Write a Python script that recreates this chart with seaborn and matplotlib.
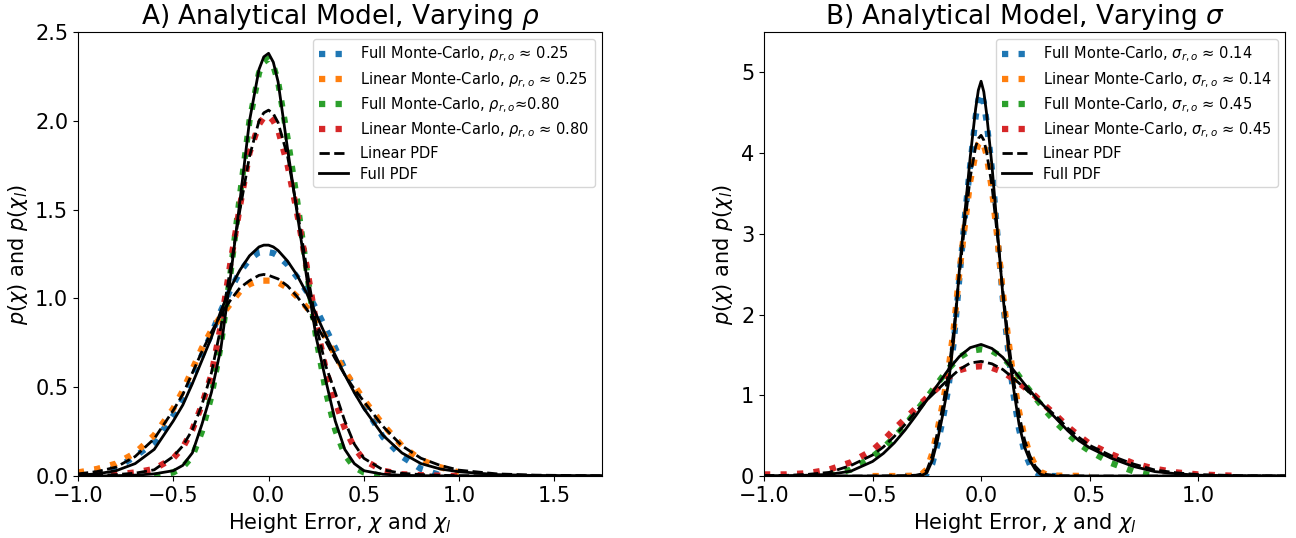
import matplotlib
matplotlib.use("Agg")
import matplotlib.pyplot as plt
import seaborn as sns

# ---------------- Panel A: varying rho ----------------
xa = [-1.0, -0.9, -0.8, -0.7, -0.6, -0.5, -0.45, -0.4, -0.35, -0.3, -0.25, -0.2, -0.15, -0.1, -0.05, -0.025,
      0.0, 0.025, 0.05, 0.1, 0.15, 0.2, 0.25, 0.3, 0.35, 0.4, 0.45, 0.5, 0.6, 0.7, 0.8, 0.9, 1.0, 1.2, 1.4, 1.75]

# analytical pdfs, rho ~ 0.25
a_full_pdf_lo = [0.005, 0.012, 0.03, 0.07, 0.15, 0.31, 0.40, 0.52, 0.65, 0.78, 0.93, 1.06, 1.16, 1.24, 1.29, 1.30,
                 1.30, 1.29, 1.27, 1.21, 1.13, 1.03, 0.91, 0.79, 0.68, 0.57, 0.47, 0.38, 0.23, 0.13, 0.07, 0.04,
                 0.024, 0.008, 0.003, 0.001]
a_lin_pdf_lo = [0.012, 0.025, 0.05, 0.11, 0.21, 0.37, 0.46, 0.58, 0.70, 0.81, 0.91, 0.99, 1.06, 1.10, 1.13, 1.135,
                1.13, 1.12, 1.11, 1.07, 1.01, 0.94, 0.85, 0.76, 0.66, 0.57, 0.49, 0.42, 0.28, 0.17, 0.10, 0.06,
                0.033, 0.012, 0.005, 0.001]
# analytical pdfs, rho ~ 0.80
a_full_pdf_hi = [0.0, 0.0, 0.002, 0.005, 0.012, 0.03, 0.06, 0.13, 0.29, 0.47, 0.72, 1.12, 1.55, 2.0, 2.29, 2.36,
                 2.38, 2.33, 2.22, 1.84, 1.48, 1.12, 0.78, 0.54, 0.31, 0.15, 0.07, 0.03, 0.01, 0.004, 0.002, 0.001,
                 0.0, 0.0, 0.0, 0.0]
a_lin_pdf_hi = [0.002, 0.004, 0.008, 0.016, 0.035, 0.11, 0.17, 0.26, 0.40, 0.58, 0.84, 1.17, 1.50, 1.80, 2.00, 2.045,
                2.06, 2.04, 1.99, 1.80, 1.50, 1.17, 0.85, 0.62, 0.47, 0.31, 0.18, 0.10, 0.035, 0.015, 0.008, 0.004,
                0.002, 0.001, 0.0, 0.0]

# monte-carlo histograms (x ranges are slices of xa)
a_mc_full_lo = [0.01, 0.02, 0.045, 0.11, 0.19, 0.34, 0.43, 0.55, 0.68, 0.80, 0.93, 1.05, 1.15, 1.22, 1.26, 1.265,
                1.26, 1.255, 1.24, 1.19, 1.12, 1.04, 0.94, 0.83, 0.72, 0.60, 0.49, 0.40, 0.22, 0.11, 0.04, 0.005]
a_mc_lin_lo = [0.02, 0.04, 0.07, 0.13, 0.23, 0.38, 0.48, 0.60, 0.72, 0.82, 0.90, 0.97, 1.04, 1.08, 1.10, 1.10,
               1.10, 1.10, 1.09, 1.06, 1.01, 0.95, 0.87, 0.78, 0.68, 0.59, 0.51, 0.43, 0.29, 0.17, 0.09, 0.05, 0.02]
a_mc_full_hi = [0.0, 0.02, 0.05, 0.11, 0.25, 0.45, 0.74, 1.14, 1.58, 2.0, 2.27, 2.33,
                2.35, 2.31, 2.22, 1.90, 1.55, 1.16, 0.78, 0.48, 0.26, 0.12, 0.05, 0.02, 0.0]
a_mc_lin_hi = [0.0, 0.005, 0.01, 0.02, 0.04, 0.10, 0.16, 0.26, 0.40, 0.57, 0.85, 1.20, 1.52, 1.82, 1.98, 2.02,
               2.03, 2.0, 1.95, 1.75, 1.48, 1.18, 0.86, 0.60, 0.42, 0.27, 0.16, 0.09, 0.03, 0.01, 0.005, 0.002, 0.0]

# ---------------- Panel B: varying sigma ----------------
xb = [-1.0, -0.9, -0.8, -0.7, -0.6, -0.5, -0.45, -0.4, -0.35, -0.3, -0.25, -0.2, -0.15, -0.1, -0.05,
      0.0, 0.05, 0.1, 0.15, 0.2, 0.25, 0.3, 0.35, 0.4, 0.45, 0.5, 0.6, 0.7, 0.8, 0.9, 1.0, 1.2, 1.4]
xb_narrow = [-1.0, -0.5, -0.35, -0.3, -0.275, -0.25, -0.225, -0.2, -0.175, -0.15, -0.125, -0.1, -0.075,
             -0.05, -0.025, -0.0125, 0.0, 0.0125, 0.025, 0.05, 0.075, 0.1, 0.125, 0.15, 0.175, 0.2, 0.225,
             0.25, 0.275, 0.3, 0.35, 0.5, 1.0, 1.4]

# sigma ~ 0.14 (narrow)
b_full_pdf_lo = [0.0, 0.0, 0.0, 0.0, 0.005, 0.04, 0.19, 0.45, 0.78, 1.15, 1.72, 2.55, 3.25, 3.95, 4.55, 4.78,
                 4.89, 4.76, 4.50, 3.85, 3.05, 2.25, 1.60, 1.08, 0.64, 0.36, 0.19, 0.08, 0.02, 0.005, 0.0, 0.0,
                 0.0, 0.0]
b_lin_pdf_lo = [0.0, 0.0, 0.005, 0.01, 0.025, 0.07, 0.25, 0.55, 0.88, 1.28, 1.82, 2.50, 3.12, 3.70, 4.08, 4.18,
                4.22, 4.16, 4.02, 3.60, 2.98, 2.30, 1.70, 1.18, 0.76, 0.45, 0.25, 0.12, 0.05, 0.02, 0.005, 0.0,
                0.0, 0.0]
# sigma ~ 0.45 (wide)
b_full_pdf_hi = [0.002, 0.004, 0.01, 0.02, 0.06, 0.18, 0.28, 0.41, 0.57, 0.75, 0.94, 1.13, 1.32, 1.48, 1.59,
                 1.63, 1.58, 1.47, 1.31, 1.14, 0.98, 0.84, 0.70, 0.56, 0.44, 0.35, 0.22, 0.12, 0.055, 0.028,
                 0.01, 0.002, 0.0]
b_lin_pdf_hi = [0.005, 0.008, 0.02, 0.045, 0.13, 0.26, 0.36, 0.49, 0.64, 0.80, 0.94, 1.07, 1.20, 1.32, 1.40,
                1.42, 1.39, 1.32, 1.21, 1.09, 0.97, 0.85, 0.73, 0.59, 0.48, 0.38, 0.25, 0.15, 0.075, 0.04,
                0.018, 0.004, 0.001]

b_mc_full_lo = [0.0, 0.0, 0.0, 0.03, 0.15, 0.40, 0.72, 1.10, 1.68, 2.45, 3.2, 3.85, 4.45, 4.66,
                4.75, 4.63, 4.4, 3.8, 3.0, 2.2, 1.55, 1.0, 0.58, 0.30, 0.14, 0.05, 0.01, 0.0, 0.0]
b_mc_lin_lo = [0.0, 0.0, 0.005, 0.02, 0.08, 0.28, 0.58, 0.92, 1.32, 1.85, 2.52, 3.1, 3.65, 4.0, 4.11,
               4.15, 4.10, 3.98, 3.55, 2.95, 2.28, 1.70, 1.20, 0.80, 0.48, 0.27, 0.13, 0.05, 0.02, 0.005, 0.0]
b_mc_full_hi = [0.0, 0.08, 0.24, 0.35, 0.48, 0.63, 0.80, 0.97, 1.15, 1.33, 1.47, 1.55, 1.57, 1.55, 1.47,
                1.33, 1.14, 0.97, 0.80, 0.65, 0.52, 0.40, 0.31, 0.16, 0.06, 0.0]
b_mc_lin_hi = [0.02, 0.02, 0.035, 0.08, 0.17, 0.32, 0.44, 0.58, 0.71, 0.84, 0.97, 1.09, 1.22, 1.31, 1.35,
               1.36, 1.34, 1.29, 1.20, 1.10, 0.99, 0.86, 0.74, 0.61, 0.50, 0.40, 0.27, 0.16, 0.09, 0.045,
               0.02, 0.0]

labels_a = [r"Full Monte-Carlo, $\rho_{r,o}$ ≈ 0.25",
            r"Linear Monte-Carlo, $\rho_{r,o}$ ≈ 0.25",
            r"Full Monte-Carlo, $\rho_{r,o}$≈0.80",
            r"Linear Monte-Carlo, $\rho_{r,o}$ ≈ 0.80"]
labels_b = [r"Full Monte-Carlo, $\sigma_{r,o}$ ≈ 0.14",
            r"Linear Monte-Carlo, $\sigma_{r,o}$ ≈ 0.14",
            r"Full Monte-Carlo, $\sigma_{r,o}$ ≈ 0.45",
            r"Linear Monte-Carlo, $\sigma_{r,o}$ ≈ 0.45"]
mc_colors = ["#1f77b4", "#ff7f0e", "#2ca02c", "#d62728"]


def draw_panel(ax, mc_series, pdf_series, labels):
    # monte-carlo curves as thick dotted lines
    for (xs, ys), lab, col in zip(mc_series, labels, mc_colors):
        sns.lineplot(x=xs, y=ys, ax=ax, color=col, linestyle=":", linewidth=4.5, label=lab)
    # analytical pdfs in black, only the first pair gets legend entries
    for i, (xs, ys_lin, ys_full) in enumerate(pdf_series):
        sns.lineplot(x=xs, y=ys_lin, ax=ax, color="black", linestyle="--", linewidth=2,
                     label="Linear PDF" if i == 0 else None)
        sns.lineplot(x=xs, y=ys_full, ax=ax, color="black", linestyle="-", linewidth=2,
                     label="Full PDF" if i == 0 else None)
    ax.set_xlabel(r"Height Error, $\chi$ and $\chi_l$", fontsize=15)
    ax.set_ylabel(r"$p(\chi)$ and $p(\chi_l)$", fontsize=15)
    ax.tick_params(labelsize=15)
    ax.legend(loc="upper right", fontsize=10.5, labelspacing=0.4)


fig = plt.figure(figsize=(12.96, 5.38), dpi=100)
ax1 = fig.add_axes([0.0602, 0.1152, 0.4043, 0.8253])
ax2 = fig.add_axes([0.5895, 0.1152, 0.4020, 0.8253])

draw_panel(ax1,
           [(xa[:32], a_mc_full_lo), (xa[:33], a_mc_lin_lo), (xa[4:29], a_mc_full_hi), (xa[:33], a_mc_lin_hi)],
           [(xa, a_lin_pdf_lo, a_full_pdf_lo), (xa, a_lin_pdf_hi, a_full_pdf_hi)],
           labels_a)
ax1.set_xlim(-1.0, 1.75)
ax1.set_ylim(0, 2.5)
ax1.set_xticks([-1.0, -0.5, 0.0, 0.5, 1.0, 1.5])
ax1.set_title(r"A) Analytical Model, Varying $\rho$", fontsize=19)

draw_panel(ax2,
           [(xb_narrow[2:31], b_mc_full_lo), (xb_narrow[1:32], b_mc_lin_lo),
            (xb[3:29], b_mc_full_hi), (xb[:32], b_mc_lin_hi)],
           [(xb_narrow, b_lin_pdf_lo, b_full_pdf_lo), (xb, b_lin_pdf_hi, b_full_pdf_hi)],
           labels_b)
ax2.set_xlim(-1.0, 1.4)
ax2.set_ylim(0, 5.5)
ax2.set_xticks([-1.0, -0.5, 0.0, 0.5, 1.0])
ax2.set_yticks([0, 1, 2, 3, 4, 5])
ax2.set_title(r"B) Analytical Model, Varying $\sigma$", fontsize=19)

fig.savefig("out.png", dpi=100)
